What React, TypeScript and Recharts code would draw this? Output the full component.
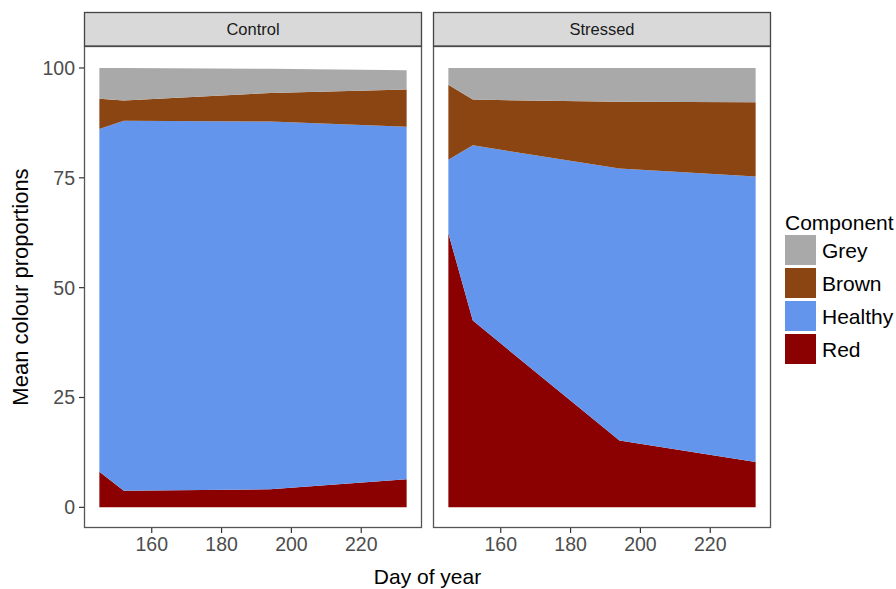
import React from 'react';
import { AreaChart, Area, XAxis, YAxis } from 'recharts';

const days = [145, 152, 194, 233];
const controlRed = [8.1, 3.8, 4.1, 6.4];
const controlHealthy = [78.0, 84.2, 83.7, 80.2];
const controlBrown = [6.9, 4.6, 6.5, 8.5];
const controlGrey = [7.0, 7.4, 5.5, 4.4];
const stressedRed = [62.4, 42.5, 15.2, 10.3];
const stressedHealthy = [16.7, 39.9, 61.9, 65.0];
const stressedBrown = [17.1, 10.4, 15.2, 16.9];
const stressedGrey = [3.8, 7.2, 7.7, 7.8];
const xTicks = [160, 180, 200, 220];
const yTicks = [0, 25, 50, 75, 100];
const legendOrder = ['Grey', 'Brown', 'Healthy', 'Red'];
const stackOrder = ['Red', 'Healthy', 'Brown', 'Grey'];
const colors: Record<string, string> = {
  Grey: '#A9A9A9',
  Brown: '#8B4513',
  Healthy: '#6495ED',
  Red: '#8B0000',
};

const build = (r: number[], h: number[], b: number[], g: number[]) =>
  days.map((d, i) => ({ day: d, Red: r[i], Healthy: h[i], Brown: b[i], Grey: g[i] }));

const controlData = build(controlRed, controlHealthy, controlBrown, controlGrey);
const stressedData = build(stressedRed, stressedHealthy, stressedBrown, stressedGrey);

const FONT = '"Liberation Sans", Arial, Helvetica, sans-serif';
const X_DOMAIN: [number, number] = [140.6, 237.4];
const Y_DOMAIN: [number, number] = [-4.7, 105];

const PLOT_TOP = 46;
const PLOT_BOTTOM = 528;
const panelsGeom = [
  { name: 'Control', left: 84, width: 338, data: controlData, showY: true },
  { name: 'Stressed', left: 433, width: 338, data: stressedData, showY: false },
];

const tickStyle = { fill: '#4D4D4D', fontSize: 19.5, fontFamily: FONT };

function Panel({ data, showY, width }: { data: any[]; showY: boolean; width: number }) {
  const yW = showY ? 84 : 0;
  return (
    <AreaChart
      width={width + yW}
      height={589}
      data={data}
      margin={{ top: PLOT_TOP, right: 0, bottom: 589 - PLOT_BOTTOM - 30, left: 0 }}
    >
      <XAxis
        dataKey="day"
        type="number"
        domain={X_DOMAIN}
        allowDataOverflow
        ticks={xTicks}
        height={30}
        axisLine={false}
        tickLine={{ stroke: '#333333', strokeWidth: 1.2 }}
        tickSize={5}
        tickMargin={4}
        tick={tickStyle}
        interval={0}
      />
      <YAxis
        type="number"
        domain={Y_DOMAIN}
        allowDataOverflow
        ticks={yTicks}
        hide={!showY}
        width={yW}
        axisLine={false}
        tickLine={{ stroke: '#333333', strokeWidth: 1.2 }}
        tickSize={5}
        tickMargin={4}
        tick={tickStyle}
        interval={0}
      />
      {stackOrder.map((k) => (
        <Area
          key={k}
          type="linear"
          dataKey={k}
          stackId="1"
          stroke="none"
          fill={colors[k]}
          fillOpacity={1}
          isAnimationActive={false}
          dot={false}
          activeDot={false}
        />
      ))}
    </AreaChart>
  );
}

export default function App() {
  return (
    <div
      style={{
        position: 'fixed',
        left: 0,
        top: 0,
        width: 896,
        height: 589,
        background: '#ffffff',
        fontFamily: FONT,
        overflow: 'hidden',
      }}
    >
      {panelsGeom.map((p) => (
        <div
          key={p.name}
          style={{ position: 'absolute', top: 0, left: p.showY ? 0 : p.left }}
        >
          <Panel data={p.data} showY={p.showY} width={p.width} />
        </div>
      ))}
      <svg
        width={896}
        height={589}
        style={{ position: 'absolute', left: 0, top: 0, pointerEvents: 'none' }}
      >
        {panelsGeom.map((p) => (
          <g key={p.name}>
            <rect
              x={p.left + 0.5}
              y={PLOT_TOP + 0.5}
              width={p.width - 1}
              height={PLOT_BOTTOM - PLOT_TOP - 1}
              fill="none"
              stroke="#555555"
              strokeWidth={1.3}
            />
            <rect
              x={p.left + 0.5}
              y={12.5}
              width={p.width - 1}
              height={PLOT_TOP - 12.5}
              fill="#D9D9D9"
              stroke="#444444"
              strokeWidth={1.3}
            />
            <text
              x={p.left + p.width / 2}
              y={35}
              textAnchor="middle"
              fontSize={16.5}
              fill="#1A1A1A"
              fontFamily={FONT}
            >
              {p.name}
            </text>
          </g>
        ))}
        <text
          transform="translate(28,287) rotate(-90)"
          textAnchor="middle"
          fontSize={22}
          fill="#000000"
          fontFamily={FONT}
        >
          Mean colour proportions
        </text>
        <text x={427.5} y={584} textAnchor="middle" fontSize={21} fill="#000000" fontFamily={FONT}>
          Day of year
        </text>
        <text x={785} y={230} fontSize={21} fill="#000000" fontFamily={FONT}>
          Component
        </text>
        {legendOrder.map((k, i) => (
          <g key={k}>
            <rect x={785} y={235 + i * 33} width={31} height={30} fill={colors[k]} />
            <text
              x={822}
              y={250 + i * 33 + 7.5}
              fontSize={21}
              fill="#000000"
              fontFamily={FONT}
            >
              {k}
            </text>
          </g>
        ))}
      </svg>
    </div>
  );
}
